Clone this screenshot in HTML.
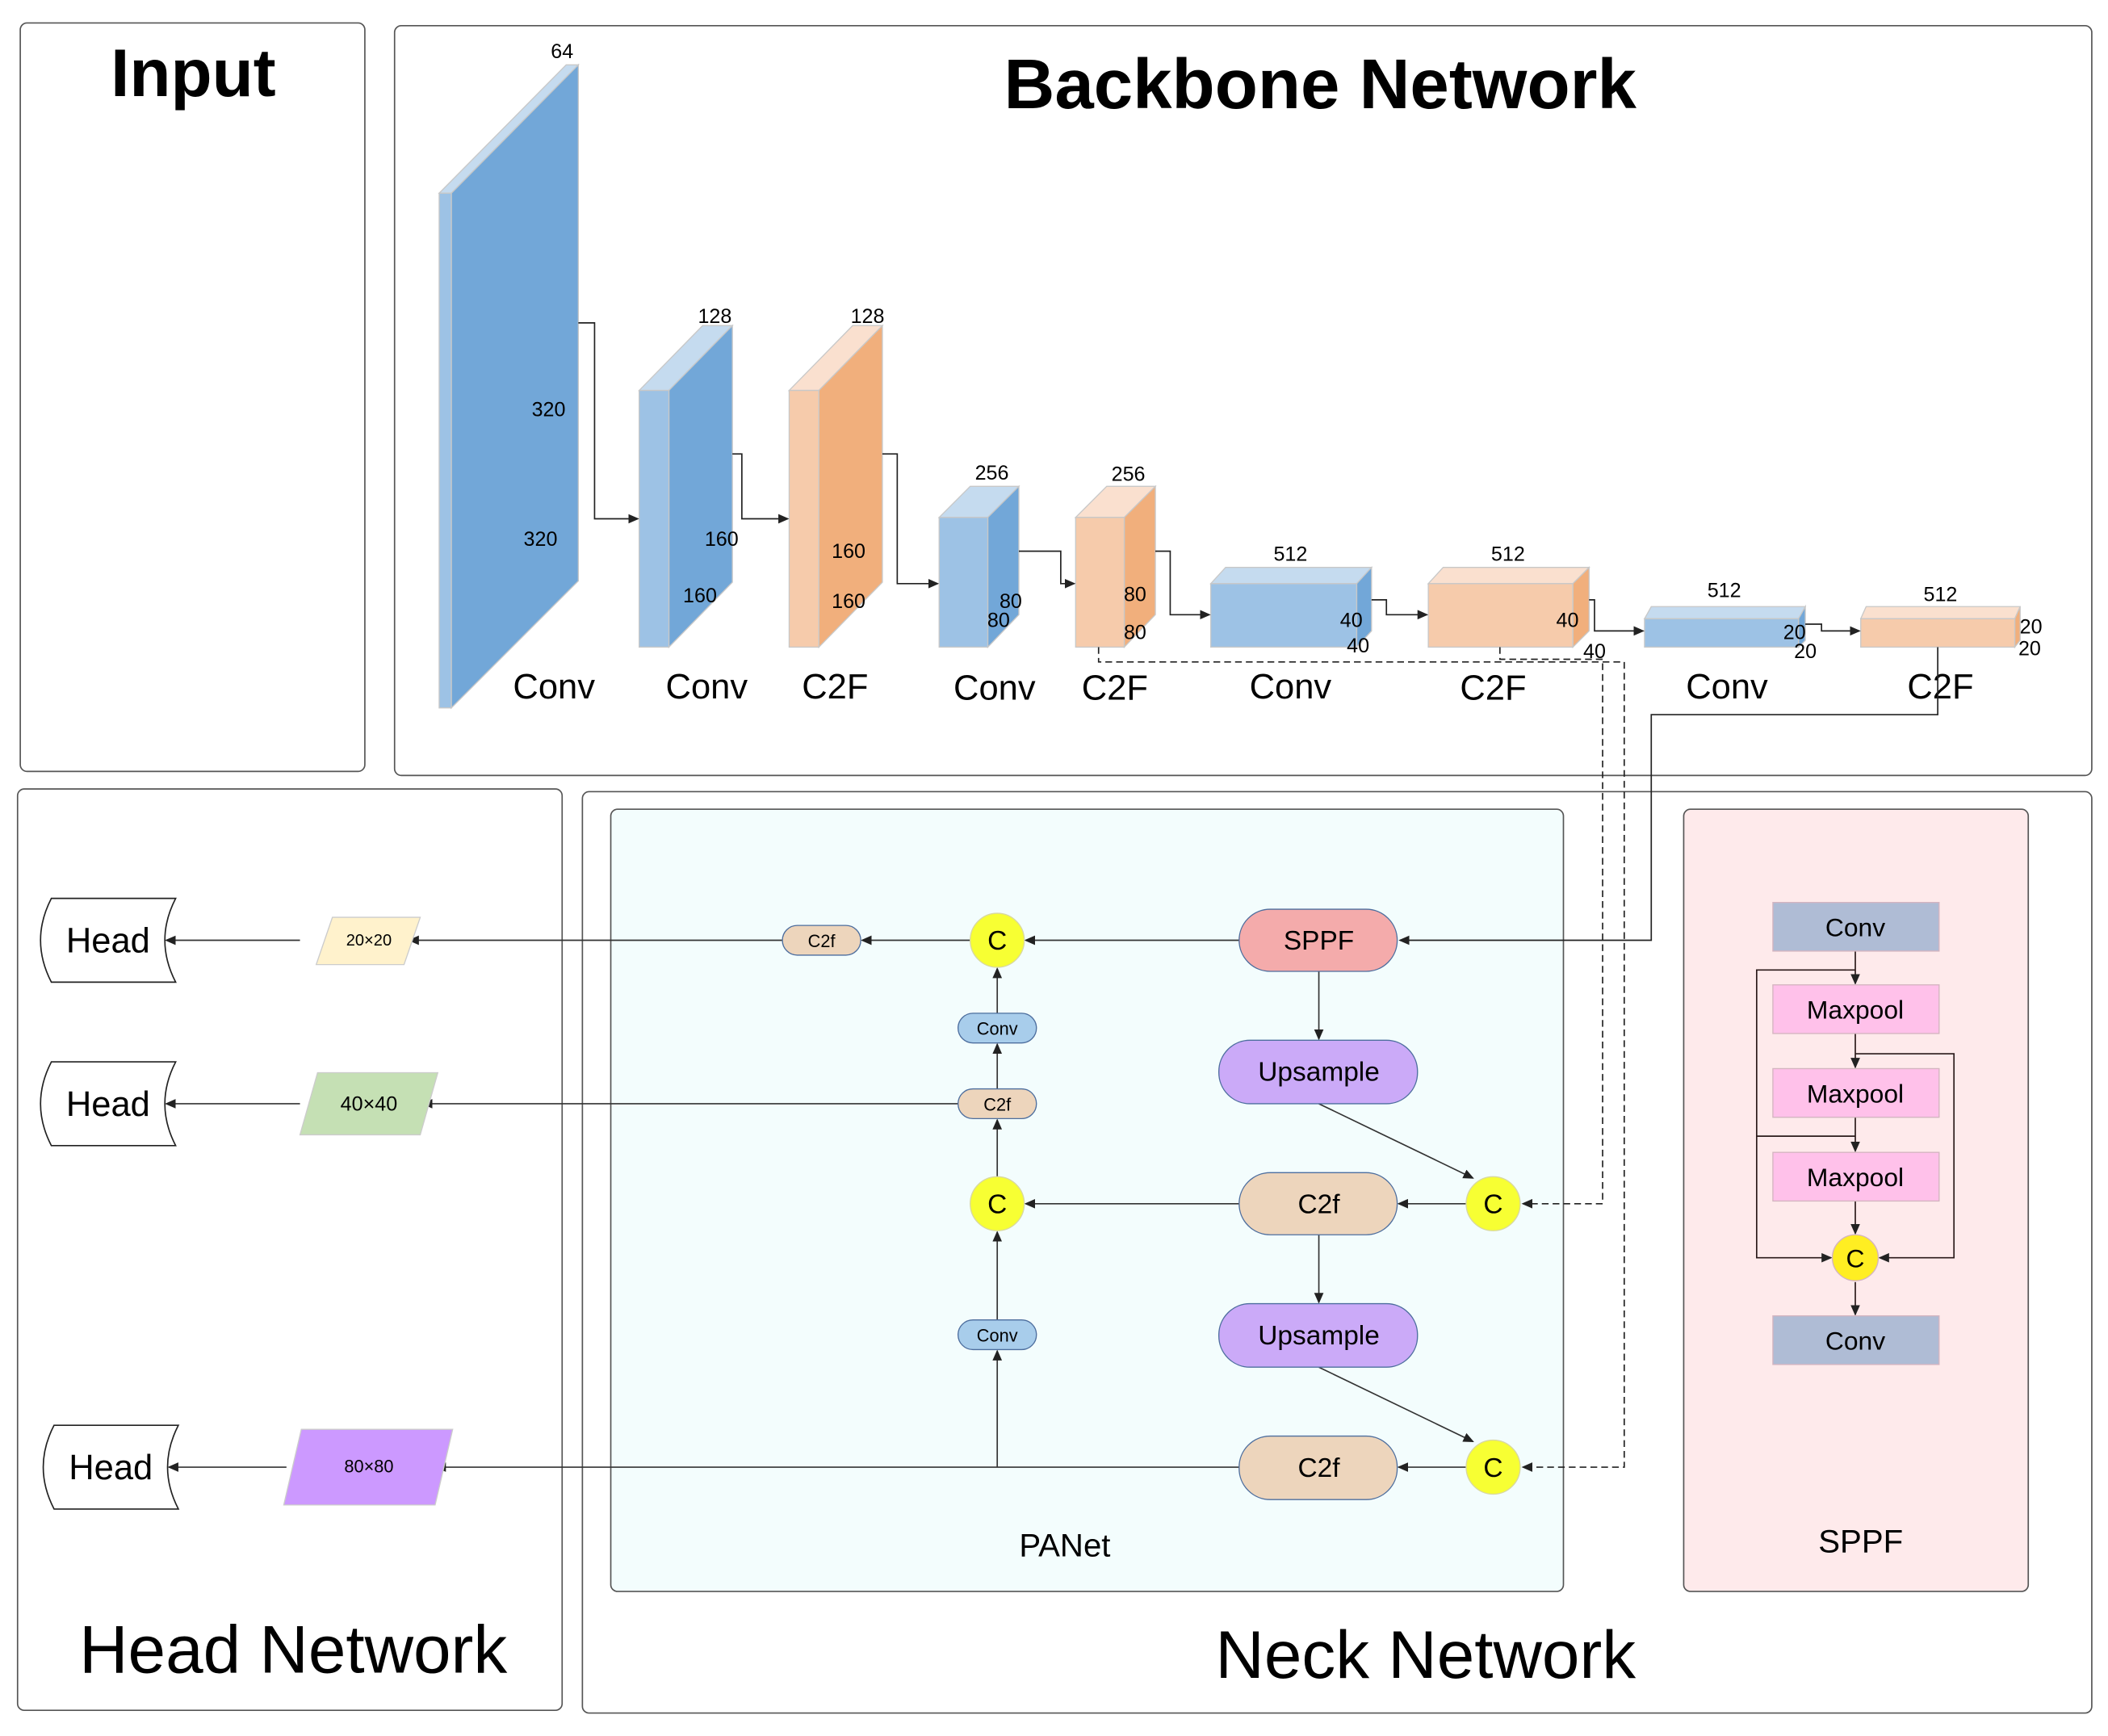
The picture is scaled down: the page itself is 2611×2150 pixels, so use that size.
<!DOCTYPE html>
<html><head><meta charset="utf-8"><style>
html,body{margin:0;padding:0;background:#fff}
svg{display:block}
text{font-family:"Liberation Sans",sans-serif;fill:#000}
</style></head><body>
<svg width="2611" height="2150" viewBox="0 0 1560 1285" preserveAspectRatio="none" xmlns="http://www.w3.org/2000/svg">
<defs>
<marker id="a" markerWidth="8" markerHeight="8" refX="7" refY="4" orient="auto" markerUnits="userSpaceOnUse"><path d="M0,0.5 L8,4 L0,7.5z" fill="#222"/></marker>
</defs>
<!-- panels -->
<rect x="15" y="17" width="255" height="554" rx="5" fill="#fff" stroke="#555" stroke-width="1"/>
<rect x="292" y="19" width="1256" height="555" rx="5" fill="#fff" stroke="#555" stroke-width="1"/>
<rect x="13" y="584" width="403" height="682" rx="5" fill="#fff" stroke="#555" stroke-width="1"/>
<rect x="431" y="586" width="1117" height="682" rx="5" fill="#fff" stroke="#555" stroke-width="1"/>
<rect x="452" y="599" width="705" height="579" rx="5" fill="#f3fdfd" stroke="#555" stroke-width="1"/>
<rect x="1246" y="599" width="255" height="579" rx="5" fill="#feeaeb" stroke="#555" stroke-width="1"/>

<text x="143" y="71" font-size="50" font-weight="bold" text-anchor="middle">Input</text>
<text x="977" y="80" font-size="52" font-weight="bold" text-anchor="middle">Backbone Network</text>
<text x="217" y="1238" font-size="50" text-anchor="middle">Head Network</text>
<text x="1055" y="1242" font-size="50" text-anchor="middle">Neck Network</text>
<text x="788" y="1152" font-size="24" text-anchor="middle">PANet</text>
<text x="1377" y="1149" font-size="24" text-anchor="middle">SPPF</text>

<!-- backbone blocks -->
<g stroke="#c8c8c8" stroke-width="0.8">
<!-- 1 -->
<polygon points="325,143 334,143 428,48 419,48" fill="#c5dbef"/>
<polygon points="334,143 428,48 428,430 334,524" fill="#72a7d8"/>
<rect x="325" y="143" width="9" height="381" fill="#9dc2e5"/>
<!-- 2 -->
<polygon points="473,289 495,289 542,241 520,241" fill="#c5dbef"/>
<polygon points="495,289 542,241 542,431 495,479" fill="#72a7d8"/>
<rect x="473" y="289" width="22" height="190" fill="#9dc2e5"/>
<!-- 3 -->
<polygon points="584,289 606,289 653,241 631,241" fill="#fae0cf"/>
<polygon points="606,289 653,241 653,431 606,479" fill="#f1af7c"/>
<rect x="584" y="289" width="22" height="190" fill="#f6cbab"/>
<!-- 4 -->
<polygon points="695,383 731,383 754,360 718,360" fill="#c5dbef"/>
<polygon points="731,383 754,360 754,455 731,479" fill="#72a7d8"/>
<rect x="695" y="383" width="36" height="96" fill="#9dc2e5"/>
<!-- 5 -->
<polygon points="796,383 832,383 855,360 819,360" fill="#fae0cf"/>
<polygon points="832,383 855,360 855,455 832,479" fill="#f1af7c"/>
<rect x="796" y="383" width="36" height="96" fill="#f6cbab"/>
<!-- 6 -->
<polygon points="896,432 1004,432 1015,420 907,420" fill="#c5dbef"/>
<polygon points="1004,432 1015,420 1015,467 1004,479" fill="#72a7d8"/>
<rect x="896" y="432" width="108" height="47" fill="#9dc2e5"/>
<!-- 7 -->
<polygon points="1057,432 1164,432 1176,420 1068,420" fill="#fae0cf"/>
<polygon points="1164,432 1176,420 1176,467 1164,479" fill="#f1af7c"/>
<rect x="1057" y="432" width="107" height="47" fill="#f6cbab"/>
<!-- 8 -->
<polygon points="1217,458 1331,458 1336,449 1222,449" fill="#c5dbef"/>
<polygon points="1331,458 1336,449 1336,474 1331,479" fill="#72a7d8"/>
<rect x="1217" y="458" width="114" height="21" fill="#9dc2e5"/>
<!-- 9 -->
<polygon points="1377,458 1491,458 1495,449 1381,449" fill="#fae0cf"/>
<polygon points="1491,458 1495,449 1495,474 1491,479" fill="#f1af7c"/>
<rect x="1377" y="458" width="114" height="21" fill="#f6cbab"/>
</g>
<g font-size="15">
<text x="416" y="43" text-anchor="middle">64</text>
<text x="406" y="308" text-anchor="middle">320</text>
<text x="400" y="404" text-anchor="middle">320</text>
<text x="529" y="239" text-anchor="middle">128</text>
<text x="534" y="404" text-anchor="middle">160</text>
<text x="518" y="446" text-anchor="middle">160</text>
<text x="642" y="239" text-anchor="middle">128</text>
<text x="628" y="413" text-anchor="middle">160</text>
<text x="628" y="450" text-anchor="middle">160</text>
<text x="734" y="355" text-anchor="middle">256</text>
<text x="748" y="450" text-anchor="middle">80</text>
<text x="739" y="464" text-anchor="middle">80</text>
<text x="835" y="356" text-anchor="middle">256</text>
<text x="840" y="445" text-anchor="middle">80</text>
<text x="840" y="473" text-anchor="middle">80</text>
<text x="955" y="415" text-anchor="middle">512</text>
<text x="1000" y="464" text-anchor="middle">40</text>
<text x="1005" y="483" text-anchor="middle">40</text>
<text x="1116" y="415" text-anchor="middle">512</text>
<text x="1160" y="464" text-anchor="middle">40</text>
<text x="1180" y="487" text-anchor="middle">40</text>
<text x="1276" y="442" text-anchor="middle">512</text>
<text x="1328" y="473" text-anchor="middle">20</text>
<text x="1336" y="487" text-anchor="middle">20</text>
<text x="1436" y="445" text-anchor="middle">512</text>
<text x="1503" y="469" text-anchor="middle">20</text>
<text x="1502" y="485" text-anchor="middle">20</text>
</g>
<g font-size="26" text-anchor="middle">
<text x="410" y="517">Conv</text>
<text x="523" y="517">Conv</text>
<text x="618" y="517">C2F</text>
<text x="736" y="518">Conv</text>
<text x="825" y="518">C2F</text>
<text x="955" y="517">Conv</text>
<text x="1105" y="518">C2F</text>
<text x="1278" y="517">Conv</text>
<text x="1436" y="517">C2F</text>
</g>
<!-- backbone connectors -->
<g fill="none" stroke="#222" stroke-width="1">
<path d="M428,239 H440 V384 H472" marker-end="url(#a)"/>
<path d="M542,336 H549 V384 H583" marker-end="url(#a)"/>
<path d="M653,336 H664 V432 H694" marker-end="url(#a)"/>
<path d="M754,408 H785 V432 H795" marker-end="url(#a)"/>
<path d="M855,408 H866 V455 H895" marker-end="url(#a)"/>
<path d="M1015,444 H1026 V455 H1056" marker-end="url(#a)"/>
<path d="M1176,444 H1180 V467 H1216" marker-end="url(#a)"/>
<path d="M1336,462 H1348 V467 H1376" marker-end="url(#a)"/>
<path d="M1434,479 V529 H1222 V696 H1036" marker-end="url(#a)"/>
<path d="M813,479 V490 H1202 V1086 H1127" stroke-dasharray="5,3" marker-end="url(#a)"/>
<path d="M1110,479 V488 H1186 V891 H1127" stroke-dasharray="5,3" marker-end="url(#a)"/>
</g>

<!-- PANet -->
<g fill="none" stroke="#333" stroke-width="1">
<path d="M917,696 H759" marker-end="url(#a)"/>
<path d="M718,696 H638" marker-end="url(#a)"/>
<path d="M579,696 H303" marker-end="url(#a)"/>
<path d="M976,719 V769" marker-end="url(#a)"/>
<path d="M976,817 L1090,872" marker-end="url(#a)"/>
<path d="M1085,891 H1035" marker-end="url(#a)"/>
<path d="M917,891 H759" marker-end="url(#a)"/>
<path d="M976,914 V964" marker-end="url(#a)"/>
<path d="M976,1012 L1090,1067" marker-end="url(#a)"/>
<path d="M1085,1086 H1035" marker-end="url(#a)"/>
<path d="M917,1086 H323" marker-end="url(#a)"/>
<path d="M738,1086 V1000" marker-end="url(#a)"/>
<path d="M738,977 V912" marker-end="url(#a)"/>
<path d="M738,871 V829" marker-end="url(#a)"/>
<path d="M738,806 V773" marker-end="url(#a)"/>
<path d="M738,750 V717" marker-end="url(#a)"/>
<path d="M709,817 H313" marker-end="url(#a)"/>
<path d="M222,696 H123" marker-end="url(#a)"/>
<path d="M222,817 H123" marker-end="url(#a)"/>
<path d="M212,1086 H125" marker-end="url(#a)"/>
</g>
<g stroke="#4d6e9e" stroke-width="0.8">
<rect x="917" y="673" width="117" height="46" rx="23" fill="#f4abab"/>
<rect x="902" y="770" width="147" height="47" rx="23" fill="#cbaaf8"/>
<rect x="917" y="868" width="117" height="46" rx="23" fill="#edd5bc"/>
<rect x="902" y="965" width="147" height="47" rx="23" fill="#cbaaf8"/>
<rect x="917" y="1063" width="117" height="47" rx="23" fill="#edd5bc"/>
<rect x="579" y="685" width="58" height="22" rx="11" fill="#edd5bc"/>
<rect x="709" y="750" width="58" height="22" rx="11" fill="#a8cdeb"/>
<rect x="709" y="806" width="58" height="22" rx="11" fill="#edd5bc"/>
<rect x="709" y="977" width="58" height="22" rx="11" fill="#a8cdeb"/>
</g>
<g fill="#f7ff33" stroke="#d8d8a0" stroke-width="0.8">
<circle cx="738" cy="696" r="20"/><circle cx="738" cy="891" r="20"/>
<circle cx="1105" cy="891" r="20"/><circle cx="1105" cy="1086" r="20"/>
</g>
<g text-anchor="middle" font-size="20">
<text x="976" y="703">SPPF</text>
<text x="976" y="800">Upsample</text>
<text x="976" y="898">C2f</text>
<text x="976" y="995">Upsample</text>
<text x="976" y="1093">C2f</text>
<text x="738" y="703">C</text><text x="738" y="898">C</text>
<text x="1105" y="898">C</text><text x="1105" y="1093">C</text>
</g>
<g text-anchor="middle" font-size="13">
<text x="608" y="701">C2f</text>
<text x="738" y="766">Conv</text>
<text x="738" y="822">C2f</text>
<text x="738" y="993">Conv</text>
</g>

<!-- parallelograms -->
<g stroke="#ccc" stroke-width="0.8">
<polygon points="246,679 311,679 299,714 234,714" fill="#fff2cc"/>
<polygon points="235,794 324,794 311,840 222,840" fill="#c5e0b4"/>
<polygon points="223,1058 335,1058 322,1114 210,1114" fill="#cc99ff"/>
</g>
<text x="273" y="700" font-size="12" text-anchor="middle">20×20</text>
<text x="273" y="822" font-size="15" text-anchor="middle">40×40</text>
<text x="273" y="1090" font-size="13" text-anchor="middle">80×80</text>

<!-- heads -->
<g fill="#fff" stroke="#222" stroke-width="1">
<path d="M38,665 H130 Q114,696 130,727 H38 Q22,696 38,665z"/>
<path d="M38,786 H130 Q114,817 130,848 H38 Q22,817 38,786z"/>
<path d="M40,1055 H132 Q116,1086 132,1117 H40 Q24,1086 40,1055z"/>
</g>
<g font-size="26" text-anchor="middle">
<text x="80" y="705">Head</text>
<text x="80" y="826">Head</text>
<text x="82" y="1095">Head</text>
</g>

<!-- SPPF detail -->
<g fill="none" stroke="#2a1a1a" stroke-width="1">
<path d="M1373,704 V728" marker-end="url(#a)"/>
<path d="M1373,765 V790" marker-end="url(#a)"/>
<path d="M1373,827 V852" marker-end="url(#a)"/>
<path d="M1373,889 V913" marker-end="url(#a)"/>
<path d="M1373,949 V973" marker-end="url(#a)"/>
<path d="M1373,718 H1300 V931 H1355" marker-end="url(#a)"/>
<path d="M1300,841 H1373"/>
<path d="M1373,780 H1446 V931 H1391" marker-end="url(#a)"/>
</g>
<g stroke="#d4b4c0" stroke-width="0.8">
<rect x="1312" y="668" width="123" height="36" fill="#afbcd5"/>
<rect x="1312" y="729" width="123" height="36" fill="#ffc1ea"/>
<rect x="1312" y="791" width="123" height="36" fill="#ffc1ea"/>
<rect x="1312" y="853" width="123" height="36" fill="#ffc1ea"/>
<rect x="1312" y="974" width="123" height="36" fill="#afbcd5"/>
<circle cx="1373" cy="931" r="17" fill="#ffee22"/>
</g>
<g font-size="19" text-anchor="middle">
<text x="1373" y="693">Conv</text>
<text x="1373" y="754">Maxpool</text>
<text x="1373" y="816">Maxpool</text>
<text x="1373" y="878">Maxpool</text>
<text x="1373" y="938">C</text>
<text x="1373" y="999">Conv</text>
</g>
</svg>
</body></html>
